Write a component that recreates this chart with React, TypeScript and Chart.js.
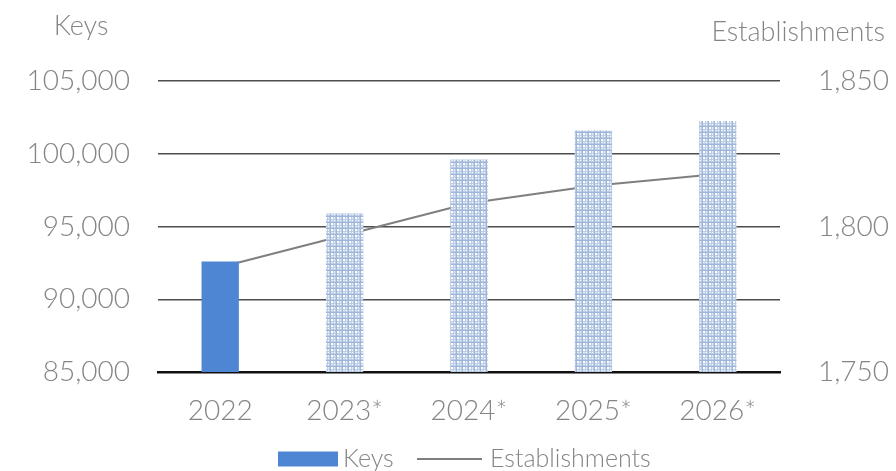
import React, { useEffect, useRef } from "react";
import { Chart, registerables } from "chart.js";

Chart.register(...registerables);

const categories = ["2022", "2023*", "2024*", "2025*", "2026*"];
const keysValues = [92600, 95900, 99600, 101600, 102250];
const establishmentsValues = [1786, 1797, 1808, 1814, 1818];
const leftAxisTitle = "Keys";
const rightAxisTitle = "Establishments";
const keysLabel = "Keys";
const establishmentsLabel = "Establishments";
const leftMin = 85000;
const leftMax = 105000;
const leftStep = 5000;
const rightMin = 1750;
const rightMax = 1850;
const rightStep = 50;

const FONT = "Lato";
const TEXT = "#858585";
const BAR_BLUE = "#4f86d4";
const LINE_GRAY = "#7f7f7f";

function makePattern(): CanvasPattern | string {
  const c = document.createElement("canvas");
  c.width = 6;
  c.height = 6;
  const g = c.getContext("2d");
  if (!g) return "#c0d0e6";
  g.fillStyle = "#bccde6";
  g.fillRect(0, 0, 6, 6);
  g.fillStyle = "#9fb6d8";
  g.fillRect(0, 0, 6, 1);
  g.fillRect(0, 0, 1, 6);
  g.fillStyle = "#ffffff";
  g.fillRect(1, 1, 2, 2);
  g.fillRect(4, 4, 1, 1);
  g.fillStyle = "#e2eaf5";
  g.fillRect(4, 1, 1, 2);
  g.fillRect(1, 4, 2, 1);
  const p = g.createPattern(c, "repeat");
  return p || "#c0d0e6";
}

const titlesPlugin = {
  id: "axisTitlesAndLegend",
  afterDraw(chart: any) {
    const ctx = chart.ctx;
    ctx.save();
    ctx.fillStyle = TEXT;
    ctx.font = `300 27px ${FONT}`;
    ctx.textBaseline = "alphabetic";
    ctx.textAlign = "center";
    ctx.fillText(leftAxisTitle, 81, 35);
    ctx.textAlign = "right";
    ctx.fillText(rightAxisTitle, 885, 41);

    // legend
    const cy = 459;
    const ds = chart.data.datasets;
    ctx.fillStyle = BAR_BLUE;
    ctx.fillRect(278, cy - 7.5, 60, 15);
    ctx.strokeStyle = ds[1].borderColor;
    ctx.lineWidth = 2;
    ctx.beginPath();
    ctx.moveTo(417, cy);
    ctx.lineTo(482, cy);
    ctx.stroke();
    ctx.fillStyle = TEXT;
    ctx.font = `300 25px ${FONT}`;
    ctx.textAlign = "left";
    ctx.textBaseline = "middle";
    ctx.fillText(ds[0].label, 343, cy);
    ctx.fillText(ds[1].label, 490, cy);
    ctx.restore();
  },
};

export default function App() {
  const ref = useRef<HTMLCanvasElement | null>(null);

  useEffect(() => {
    if (!ref.current) return;
    const pattern = makePattern();
    const barColors = keysValues.map((_, i) => (i === 0 ? BAR_BLUE : pattern));
    const chart = new Chart(ref.current, {
      data: {
        labels: categories,
        datasets: [
          {
            type: "bar",
            label: keysLabel,
            data: keysValues,
            backgroundColor: barColors as any,
            borderWidth: 0,
            yAxisID: "y",
            order: 1,
            categoryPercentage: 1,
            barPercentage: 0.3,
          } as any,
          {
            type: "line",
            label: establishmentsLabel,
            data: establishmentsValues,
            borderColor: LINE_GRAY,
            backgroundColor: LINE_GRAY,
            borderWidth: 2,
            pointRadius: 0,
            tension: 0,
            yAxisID: "y1",
            order: 2,
          } as any,
        ],
      },
      options: {
        animation: false,
        responsive: false,
        maintainAspectRatio: false,
        layout: { padding: { top: 81, bottom: 0, left: 0, right: 0 } },
        plugins: {
          tooltip: { enabled: false },
          legend: { display: false },
        },
        scales: {
          x: {
            grid: { display: false, drawTicks: false },
            border: { display: true, color: "#111111", width: 2.5 },
            ticks: {
              color: TEXT,
              font: { family: FONT, size: 28, weight: "300" as any },
              padding: 22,
            },
            afterFit: (s: any) => {
              s.height = 99;
            },
          },
          y: {
            position: "left",
            min: leftMin,
            max: leftMax,
            ticks: {
              stepSize: leftStep,
              color: TEXT,
              font: { family: FONT, size: 28, weight: "300" as any },
              padding: 28,
              callback: (v: any) => Number(v).toLocaleString("en-US"),
            },
            grid: { color: "#4d4d4d", lineWidth: 1.5, drawTicks: false },
            border: { display: false },
            afterFit: (s: any) => {
              s.width = 158;
            },
          },
          y1: {
            position: "right",
            min: rightMin,
            max: rightMax,
            ticks: {
              stepSize: rightStep,
              color: TEXT,
              font: { family: FONT, size: 28, weight: "300" as any },
              padding: 38,
              callback: (v: any) => Number(v).toLocaleString("en-US"),
            },
            grid: { display: false, drawTicks: false },
            border: { display: false },
            afterFit: (s: any) => {
              s.width = 116;
            },
          },
        },
      },
      plugins: [titlesPlugin],
    } as any);
    return () => chart.destroy();
  }, []);

  return (
    <div style={{ position: "fixed", left: 0, top: 0, width: 896, height: 471, background: "#ffffff" }}>
      <canvas ref={ref} width={896} height={471} style={{ width: 896, height: 471, display: "block" }} />
    </div>
  );
}
